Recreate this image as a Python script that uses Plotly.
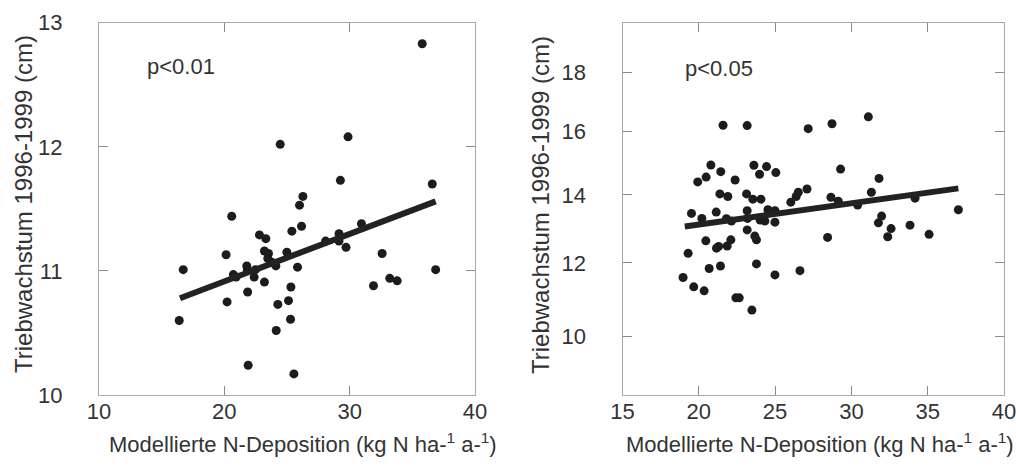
import numpy as np
import plotly.graph_objects as go

# left panel: shoot growth 1996-1999 vs modelled N deposition
left_x = [35.79, 29.87, 24.46, 29.26, 36.59, 26.27, 26.0, 20.59, 26.16, 25.39,
          22.8, 23.31, 30.94, 29.15, 29.15, 28.08, 29.71, 23.2, 23.52, 24.99,
          20.14, 32.59, 23.47, 23.79, 24.11, 25.84, 16.72, 21.79, 21.84, 22.48,
          20.72, 20.94, 22.38, 23.2, 25.31, 31.9, 33.2, 33.79, 21.86, 20.22,
          25.12, 24.27, 16.4, 25.28, 24.14, 21.9, 25.55, 36.86]
left_y = [12.83, 12.08, 12.02, 11.73, 11.70, 11.60, 11.53, 11.44, 11.36, 11.32,
          11.29, 11.26, 11.38, 11.30, 11.24, 11.24, 11.19, 11.16, 11.14, 11.15,
          11.13, 11.14, 11.10, 11.07, 11.04, 11.03, 11.01, 11.04, 11.01, 11.01,
          10.97, 10.95, 10.95, 10.91, 10.87, 10.88, 10.94, 10.92, 10.83, 10.75,
          10.76, 10.73, 10.60, 10.61, 10.52, 10.24, 10.17, 11.01]
left_fit_x = [16.46, 36.86]
left_fit_y = [10.78, 11.56]

# right panel
right_x = [31.11, 21.59, 23.17, 28.73, 27.17, 20.79, 20.48, 19.93, 21.44, 22.38,
           23.61, 24.44, 23.98, 25.05, 29.29, 31.81, 31.31, 27.09, 26.52, 26.38,
           26.03, 21.38, 21.90, 23.13, 23.54, 24.07, 28.66, 29.14, 34.17, 19.52,
           20.20, 21.14, 23.17, 24.53, 24.99, 21.81, 22.14, 23.19, 24.02, 24.33,
           24.99, 30.41, 31.98, 31.77, 32.60, 32.38, 33.84, 35.09, 37.01, 28.44,
           23.17, 23.67, 23.78, 20.46, 22.10, 21.16, 21.30, 21.86, 19.30, 20.68,
           21.42, 23.78, 24.99, 26.63, 18.97, 19.67, 20.35, 22.43, 22.65, 23.48,
           24.28]
right_y = [16.49, 16.21, 16.20, 16.26, 16.10, 14.93, 14.55, 14.40, 14.72, 14.46,
           14.92, 14.88, 14.64, 14.69, 14.80, 14.51, 14.08, 14.18, 14.08, 13.95,
           13.78, 14.03, 13.95, 14.03, 13.87, 13.87, 13.93, 13.81, 13.90, 13.44,
           13.29, 13.48, 13.52, 13.55, 13.52, 13.28, 13.21, 13.29, 13.24, 13.21,
           13.18, 13.69, 13.36, 13.16, 12.99, 12.75, 13.09, 12.82, 13.55, 12.73,
           12.95, 12.77, 12.66, 12.63, 12.66, 12.42, 12.47, 12.48, 12.27, 11.84,
           11.91, 11.97, 11.66, 11.78, 11.59, 11.33, 11.22, 11.03, 11.03, 10.70,
           13.24]
right_fit_x = [19.08, 37.01]
right_fit_y = [13.05, 14.20]

left_xticks = [10, 20, 30, 40]
left_yticks = [10, 11, 12, 13]
right_xticks = [15, 20, 25, 30, 35, 40]
right_yticks = [10, 12, 14, 16, 18]

x_title = 'Modellierte N-Deposition (kg N ha-<sup>1</sup> a-<sup>1</sup>)'
y_title = 'Triebwachstum 1996-1999 (cm)'

W, H = 1016, 469
font = 'Liberation Sans, Arial, sans-serif'
txt = '#333333'
dot = '#1c1c1c'

fig = go.Figure()
fig.add_trace(go.Scatter(x=left_x, y=left_y, mode='markers',
                         marker=dict(size=9, color=dot), xaxis='x', yaxis='y'))
fig.add_trace(go.Scatter(x=left_fit_x, y=left_fit_y, mode='lines',
                         line=dict(color='#222222', width=6), xaxis='x', yaxis='y'))

# the right panel's y axis is square-root scaled in the original
fig.add_trace(go.Scatter(x=right_x, y=np.sqrt(right_y), mode='markers',
                         marker=dict(size=9, color=dot), xaxis='x2', yaxis='y2'))
fig.add_trace(go.Scatter(x=right_fit_x, y=np.sqrt(right_fit_y), mode='lines',
                         line=dict(color='#222222', width=6), xaxis='x2', yaxis='y2'))

ax = dict(showgrid=False, zeroline=False, showline=True, linecolor='#a8a8a8',
          linewidth=1, mirror='ticks', ticks='inside', ticklen=9, tickcolor='#8a8a8a',
          automargin=False, ticklabeloverflow='allow',
          tickfont=dict(family=font, size=22, color=txt))

ydom = [1 - 395 / H, 1 - 22.7 / H]
fig.update_layout(
    width=W, height=H, showlegend=False,
    paper_bgcolor='white', plot_bgcolor='white',
    margin=dict(l=0, r=0, t=0, b=0),
    xaxis=dict(ax, domain=[99 / W, 475 / W], range=[10, 40],
               tickvals=left_xticks, ticklabelstandoff=-3),
    yaxis=dict(ax, domain=ydom, range=[10, 13],
               tickvals=left_yticks, ticklabelstandoff=31),
    xaxis2=dict(ax, domain=[622.5 / W, 1004 / W], range=[15, 40],
                tickvals=right_xticks, ticklabelstandoff=-3, anchor='y2'),
    yaxis2=dict(ax, domain=ydom, range=[2.9241, 4.4453],
                tickvals=list(np.sqrt(right_yticks)),
                ticktext=[str(v) for v in right_yticks],
                ticklabelstandoff=31, anchor='x2'),
)

def note(text, x, y, size=22, angle=0, xanchor='center'):
    fig.add_annotation(text=text, x=x / W, y=1 - y / H, xref='paper', yref='paper',
                       showarrow=False, textangle=angle, xanchor=xanchor,
                       yanchor='middle', font=dict(family=font, size=size, color=txt))

note(x_title, 303, 443)
note(x_title, 820, 443)
note(y_title, 23, 204, size=24, angle=-90)
note(y_title, 540, 205, size=24, angle=-90)
note('p&lt;0.01', 145, 67, xanchor='left')
note('p&lt;0.05', 683, 68, xanchor='left')

# page has a default 8px body margin; drop it so the figure fills the window
fig.write_html('out.html', config={'displayModeBar': False},
               post_script="document.body.style.margin='0';")
